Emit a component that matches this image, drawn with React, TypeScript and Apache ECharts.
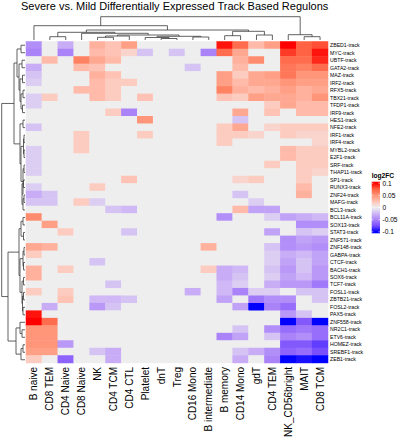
import React, { useEffect, useRef } from "react";
import * as echarts from "echarts";

const colLabels = ["B naive", "CD8 TEM", "CD4 Naive", "CD8 Naive", "NK", "CD4 TCM", "CD4 CTL", "Platelet", "dnT", "Treg", "CD16 Mono", "B intermediate", "B memory", "CD14 Mono", "gdT", "CD4 TEM", "NK_CD56bright", "MAIT", "CD8 TCM"];

const rowLabels = ["ZBED1-track", "MYC-track", "UBTF-track", "GATA2-track", "MAZ-track", "IRF2-track", "RFX5-track", "TBX21-track", "TFDP1-track", "IRF9-track", "HES1-track", "NFE2-track", "IRF1-track", "IRF4-track", "MYBL2-track", "E2F1-track", "SRF-track", "THAP11-track", "SP1-track", "RUNX3-track", "ZNF24-track", "MAFG-track", "BCL3-track", "BCL11A-track", "SOX13-track", "STAT3-track", "ZNF571-track", "ZNF148-track", "GABPA-track", "CTCF-track", "BACH1-track", "SOX6-track", "TCF7-track", "FOSL1-track", "ZBTB21-track", "FOSL2-track", "PAX5-track", "ZNF558-track", "NR2C1-track", "ETV6-track", "HOMEZ-track", "SREBF1-track", "ZEB1-track"];

// non-zero cells per row: [column index, log2FC]
const rowCells: [number, number][][] = [
  [[0, -0.045], [2, -0.03], [4, 0.035], [5, 0.025], [6, 0.045], [12, 0.095], [13, 0.07], [14, 0.03], [15, 0.045], [16, 0.1], [17, 0.075], [18, 0.08]],
  [[0, -0.05], [2, -0.05], [4, 0.03], [5, 0.025], [6, 0.015], [7, -0.02], [9, -0.02], [11, -0.05], [12, 0.07], [13, 0.04], [16, 0.085], [17, 0.075], [18, 0.095]],
  [[1, 0.03], [3, 0.06], [4, 0.04], [5, 0.03], [13, 0.035], [14, 0.055], [16, 0.07], [17, 0.07], [18, 0.09]],
  [[0, -0.03], [3, 0.03], [4, 0.025], [10, -0.02], [13, 0.03], [16, 0.065], [17, 0.06], [18, 0.07]],
  [[0, -0.02], [4, 0.035], [5, 0.025], [12, 0.045], [13, 0.02], [14, 0.04], [15, 0.045], [16, 0.065], [17, 0.05], [18, 0.05]],
  [[0, -0.015], [4, 0.03], [5, 0.02], [6, 0.02], [12, 0.045], [13, 0.03], [14, 0.04], [15, 0.04], [16, 0.05], [17, 0.045], [18, 0.045]],
  [[3, 0.03], [4, 0.03], [5, 0.02], [12, 0.06], [13, 0.035], [14, 0.03], [15, 0.035], [16, 0.045], [17, 0.035], [18, 0.04]],
  [[0, -0.015], [1, 0.02], [4, 0.03], [5, 0.02], [7, 0.025], [12, 0.025], [13, 0.02], [14, 0.045], [15, 0.04], [16, 0.04], [17, 0.035], [18, 0.05]],
  [[0, -0.015], [15, 0.02], [16, 0.04], [17, 0.03], [18, 0.03]],
  [[5, 0.02], [6, -0.05], [13, 0.04], [15, 0.025], [17, 0.03], [18, 0.03]],
  [[7, 0.05], [13, -0.02]],
  [[0, -0.02], [12, 0.02], [13, 0.04], [15, 0.015], [16, 0.02], [17, 0.02], [18, 0.02]],
  [[3, 0.02], [7, 0.02], [12, 0.02], [13, 0.02], [14, 0.015], [16, 0.02], [17, 0.015], [18, 0.015]],
  [[3, 0.02], [12, 0.02], [18, 0.015]],
  [[0, -0.015], [3, 0.02], [16, 0.03], [17, 0.02], [18, 0.02]],
  [[0, -0.015], [16, 0.03], [17, 0.02], [18, 0.02]],
  [[0, -0.015], [15, 0.02], [17, 0.02], [18, 0.02]],
  [[0, -0.015], [17, 0.02], [18, 0.015]],
  [[6, 0.025], [13, 0.015], [14, 0.02], [17, 0.02]],
  [[0, -0.015], [4, 0.02], [17, 0.03]],
  [[0, -0.03], [1, -0.02], [13, -0.02], [17, 0.035]],
  [[0, -0.02], [1, -0.02], [3, 0.02], [4, -0.015], [14, -0.015]],
  [[5, -0.02], [6, -0.025], [13, 0.03], [14, -0.035], [15, -0.035]],
  [[0, 0.055], [12, -0.045], [15, -0.015], [16, -0.035], [17, -0.03], [18, -0.025]],
  [[1, 0.045], [17, -0.045], [18, -0.045]],
  [[2, 0.02], [6, -0.02], [15, -0.035], [17, -0.02], [18, -0.015]],
  [[16, -0.045], [17, -0.035], [18, -0.04]],
  [[0, 0.04], [1, 0.035], [11, 0.035], [15, -0.02], [16, -0.045], [17, -0.04], [18, -0.045]],
  [[0, 0.02], [15, -0.015], [16, -0.03], [17, -0.025], [18, -0.035]],
  [[4, -0.02], [15, -0.015], [16, -0.035], [17, -0.02], [18, -0.035]],
  [[0, 0.035], [2, 0.02], [11, 0.02], [12, -0.03], [13, -0.025], [15, -0.02], [16, -0.04], [17, -0.02], [18, -0.04]],
  [[0, 0.035], [12, -0.03], [13, -0.02], [15, -0.015], [16, -0.035], [17, -0.025], [18, -0.04]],
  [[5, -0.02], [12, -0.025], [13, -0.015], [15, -0.03], [16, -0.04], [17, -0.04], [18, -0.055]],
  [[0, 0.02], [2, 0.02], [10, -0.03], [12, -0.025], [13, -0.05], [14, -0.015], [15, -0.015], [17, -0.02], [18, -0.02]],
  [[2, 0.025], [4, -0.025], [5, -0.025], [6, -0.02], [12, -0.035], [14, -0.055], [15, -0.045], [16, -0.045], [18, -0.02]],
  [[1, -0.03], [4, -0.04], [5, -0.02], [13, -0.035], [14, -0.1], [15, -0.05], [16, -0.06]],
  [[0, 0.095], [16, -0.04], [17, -0.02]],
  [[0, 0.1], [1, 0.07], [16, -0.1], [17, -0.07], [18, -0.1]],
  [[0, 0.05], [1, 0.05], [13, -0.02], [15, -0.045], [16, -0.06], [17, -0.055], [18, -0.06]],
  [[0, 0.05], [1, 0.05], [12, -0.05], [13, -0.035], [15, -0.02], [16, -0.05], [17, -0.045], [18, -0.06]],
  [[0, 0.05], [1, 0.05], [2, -0.04], [16, -0.07], [17, -0.07], [18, -0.08]],
  [[0, 0.045], [1, 0.045], [4, -0.02], [5, -0.03], [13, -0.02], [14, -0.03], [15, -0.045], [16, -0.065], [17, -0.06], [18, -0.075]],
  [[0, 0.02], [2, -0.065], [5, -0.03], [13, -0.03], [15, -0.05], [16, -0.1], [17, -0.095], [18, -0.1]],
];

// dendrograms: leaf = index, node = [height, left, right]
type Tree = number | [number, Tree, Tree];
const colTree: Tree = [23.3, [14.3, 0, [10, [7.7, [3.3, 1, 2], [6.7, 3, [5, [4, [2.7, 4, 5], 6], [3.7, [2.5, 7, [1.5, 8, 9]], [3, 10, 11]]]]], [8.7, [4.3, 12, 13], [5, 14, 15]]]], [5.3, 16, [3.3, 17, 18]]];

const rowTree: Tree = [23.3,
  [11,
    [8, [4, 0, 1], [6, [3, 2, 3], [5, [2.5, 4, 5], [4, [2, 6, 7], [2.5, 8, 9]]]]],
    [5, [2, 10, 11], [4, [1.5, [1, 12, 13], [1, 14, 15]], [2, [1, 16, 17], [3, [1.5, 18, 19], [2, [1, 20, 21], 22]]]]]],
  [17,
    [6, [4, [2, 23, 24], [1.5, 25, 26]], [5, [2, [1, 27, 28], [1.5, 29, 30]], [3, [1.5, 31, 32], [2.5, [1.5, 33, 34], [2, 35, 36]]]]],
    [9, [5, 37, [3, 38, 39]], [4, [2, 40, 41], 42]]]];

const legendTicks = [0.1, 0.05, 0, -0.05, -0.1];
const colorValues = [-0.1, -0.075, -0.05, -0.025, 0, 0.025, 0.05, 0.075, 0.1];
const colorList = ["#0000FF", "#794EFD", "#AA83F9", "#CFB8F5", "#EEEEEE", "#FFC3B5", "#FF9679", "#FF6343", "#FF0000"];

function layoutTree(node: Tree, segs: number[][]): { pos: number; h: number } {
  if (typeof node === "number") return { pos: node + 0.5, h: 0 };
  const [h, l, r] = node;
  const L = layoutTree(l, segs);
  const R = layoutTree(r, segs);
  segs.push([L.pos, L.h, R.pos, R.h, h]);
  return { pos: (L.pos + R.pos) / 2, h };
}

const FONT = "'Liberation Sans', Arial, Helvetica, sans-serif";

export default function App() {
  const ref = useRef<HTMLDivElement>(null);
  useEffect(() => {
    document.body.style.margin = "0";
    const chart = echarts.init(ref.current!, undefined, { renderer: "svg" });

    const heatData: number[][] = [];
    rowLabels.forEach((_, r) => {
      const m = new Map(rowCells[r]);
      colLabels.forEach((_, c) => heatData.push([c, r, m.get(c) ?? 0]));
    });

    const colSegs: number[][] = [];
    layoutTree(colTree, colSegs);
    const rowSegs: number[][] = [];
    layoutTree(rowTree, rowSegs);

    const hmLeft = 26, hmTop = 41.5, hmW = 302, hmH = 322;
    const lineStyle = { stroke: "#3a3a3a", lineWidth: 0.8, fill: "none" };

    // legend
    const barX = 371.7, barY = 181.7, barW = 8.3, barH = 51.6;
    const tickY = (v: number) => barY + 1.5 + ((0.1 - v) / 0.2) * (barH - 3);
    const stops = colorValues
      .map((v, i) => ({ offset: (tickY(v) - barY) / barH, color: colorList[i] }))
      .sort((a, b) => a.offset - b.offset);
    const legendEls: any[] = [
      { type: "text", x: barX, y: 175, style: { text: "log2FC", font: `bold 6.6px ${FONT}`, fill: "#000", textVerticalAlign: "middle" } },
      { type: "rect", shape: { x: barX, y: barY, width: barW, height: barH }, style: { fill: new echarts.graphic.LinearGradient(0, 0, 0, 1, [{ offset: 0, color: "#FF0000" }, ...stops, { offset: 1, color: "#0000FF" }]) } },
    ];
    legendTicks.forEach((v) => {
      const y = tickY(v);
      legendEls.push({ type: "line", shape: { x1: barX, y1: y, x2: barX + 1.6, y2: y }, style: { stroke: "#fff", lineWidth: 0.6 } });
      legendEls.push({ type: "line", shape: { x1: barX + barW - 1.6, y1: y, x2: barX + barW, y2: y }, style: { stroke: "#fff", lineWidth: 0.6 } });
      legendEls.push({ type: "text", x: barX + barW + 2.5, y, style: { text: String(v), font: `6.6px ${FONT}`, fill: "#000", textVerticalAlign: "middle" } });
    });

    chart.setOption({
      animation: false,
      title: { text: "Severe vs. Mild Differentially Expressed Track Based Regulons", left: 21, top: 0, padding: 0, textStyle: { fontSize: 11, fontWeight: "normal", color: "#000", fontFamily: FONT } },
      grid: [
        { left: hmLeft, top: hmTop, width: hmW, height: hmH },
        { left: hmLeft, top: 16, width: hmW, height: 24 },
        { left: 0, top: hmTop, width: 25, height: hmH },
      ],
      xAxis: [
        { type: "category", gridIndex: 0, data: colLabels, position: "bottom", axisLine: { show: false }, axisTick: { show: false }, splitLine: { show: false }, axisLabel: { rotate: 90, interval: 0, fontSize: 10, margin: 4, color: "#000", fontFamily: FONT } },
        { type: "value", gridIndex: 1, min: 0, max: 19, show: false },
        { type: "value", gridIndex: 2, min: 0, max: 25, inverse: true, show: false },
      ],
      yAxis: [
        { type: "category", gridIndex: 0, data: rowLabels, inverse: true, position: "right", axisLine: { show: false }, axisTick: { show: false }, splitLine: { show: false }, axisLabel: { interval: 0, fontSize: 5.2, margin: 2, color: "#000", fontFamily: FONT } },
        { type: "value", gridIndex: 1, min: 0, max: 24, show: false },
        { type: "value", gridIndex: 2, min: 0, max: 43, inverse: true, show: false },
      ],
      visualMap: { type: "continuous", show: false, min: -0.1, max: 0.1, dimension: 2, seriesIndex: 0, inRange: { color: colorList } },
      series: [
        { type: "heatmap", xAxisIndex: 0, yAxisIndex: 0, data: heatData, itemStyle: { borderWidth: 0 }, emphasis: { disabled: true } },
        {
          type: "custom", xAxisIndex: 1, yAxisIndex: 1, data: colSegs, silent: true,
          renderItem: (_p: any, api: any) => {
            const a = api.coord([api.value(0), api.value(1)]);
            const b = api.coord([api.value(0), api.value(4)]);
            const c = api.coord([api.value(2), api.value(4)]);
            const d = api.coord([api.value(2), api.value(3)]);
            return { type: "polyline", shape: { points: [a, b, c, d] }, style: lineStyle };
          },
        },
        {
          type: "custom", xAxisIndex: 2, yAxisIndex: 2, data: rowSegs, silent: true,
          renderItem: (_p: any, api: any) => {
            const a = api.coord([api.value(1), api.value(0)]);
            const b = api.coord([api.value(4), api.value(0)]);
            const c = api.coord([api.value(4), api.value(2)]);
            const d = api.coord([api.value(3), api.value(2)]);
            return { type: "polyline", shape: { points: [a, b, c, d] }, style: lineStyle };
          },
        },
      ],
      graphic: legendEls,
    });
    return () => chart.dispose();
  }, []);
  return <div ref={ref} style={{ width: 405, height: 440 }} />;
}
